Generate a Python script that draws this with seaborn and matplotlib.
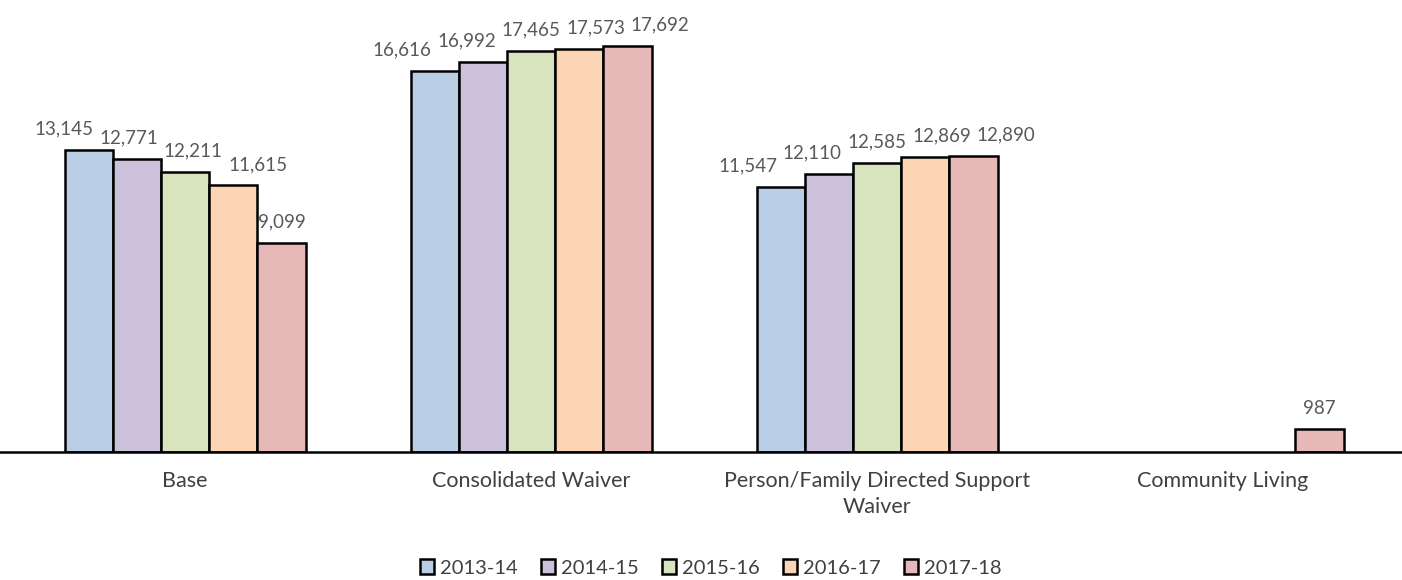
import matplotlib
matplotlib.use("Agg")
import matplotlib.pyplot as plt
import seaborn as sns
import pandas as pd
import numpy as np

categories = ["Base", "Consolidated Waiver", "Person/Family Directed Support\nWaiver", "Community Living"]
years = ["2013-14", "2014-15", "2015-16", "2016-17", "2017-18"]
v_2013 = [13145, 16616, 11547, np.nan]
v_2014 = [12771, 16992, 12110, np.nan]
v_2015 = [12211, 17465, 12585, np.nan]
v_2016 = [11615, 17573, 12869, np.nan]
v_2017 = [9099, 17692, 12890, 987]
colors = ["#B9CDE5", "#CCC1DA", "#D7E4BD", "#FCD5B5", "#E6B9B8"]

series = [v_2013, v_2014, v_2015, v_2016, v_2017]
rows = []
for y, vals in zip(years, series):
    for c, v in zip(categories, vals):
        rows.append({"category": c, "year": y, "value": v})
df = pd.DataFrame(rows)

sns.set_style("white")
plt.rcParams["font.family"] = ["Lato", "DejaVu Sans"]

fig = plt.figure(figsize=(14.02, 5.80), dpi=100)
ax = fig.add_axes([0.0, 0.2207, 1.0, 0.7517])

sns.barplot(data=df, x="category", y="value", hue="year", order=categories,
            hue_order=years, palette=colors, width=0.697, saturation=1,
            edgecolor="black", linewidth=1.8, ax=ax, legend=True)

ax.set_xlim(-0.535, 3.517)
ax.set_ylim(0, 19000)
ax.set_xlabel("")
ax.set_ylabel("")
ax.set_yticks([])
for s in ["top", "right", "left"]:
    ax.spines[s].set_visible(False)
ax.spines["bottom"].set_color("black")
ax.spines["bottom"].set_linewidth(1.8)
ax.tick_params(axis="x", length=0, pad=14, labelsize=15.5, labelcolor="#404040")
for lbl in ax.get_xticklabels():
    lbl.set_linespacing(1.35)

# value labels, grouped by category
groups = {i: [] for i in range(len(categories))}
for cont in ax.containers:
    labels = []
    for bar in cont:
        h = bar.get_height()
        labels.append("" if (h is None or np.isnan(h)) else f"{int(round(h)):,}")
    ts = ax.bar_label(cont, labels=labels, padding=9, fontsize=13.5, color="#595959")
    for bar, t in zip(cont, ts):
        if t.get_text():
            ci = int(round(bar.get_x() + bar.get_width() / 2))
            groups[ci].append((bar.get_x(), t))

# simple spreading of overlapping labels within a group
fig.canvas.draw()
r = fig.canvas.get_renderer()
for ci, items in groups.items():
    group = [t for _, t in sorted(items, key=lambda p: p[0])]
    for _ in range(40):
        moved = False
        for a, b in zip(group[:-1], group[1:]):
            ba = a.get_window_extent(r)
            bb = b.get_window_extent(r)
            ovx = ba.x1 + 6 - bb.x0
            ovy = min(ba.y1, bb.y1) - max(ba.y0, bb.y0)
            if ovx > 0.5 and ovy > -2:
                for t, d in ((a, -ovx / 2), (b, ovx / 2)):
                    dx, dy = t.xyann
                    t.xyann = (dx + d * 72 / fig.dpi, dy)
                moved = True
        if not moved:
            break

leg = ax.legend(loc="upper center", bbox_to_anchor=(0.507, -0.205), ncol=5,
                frameon=False, fontsize=14.5, handlelength=0.7, handleheight=0.7,
                handletextpad=0.3, columnspacing=1.15)
for t in leg.get_texts():
    t.set_color("#404040")

fig.savefig("out.png", dpi=100)
